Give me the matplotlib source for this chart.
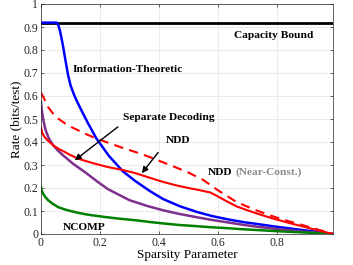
import numpy as np
import matplotlib
matplotlib.use('Agg')
import matplotlib.pyplot as plt

plt.rcParams['font.family'] = ['Liberation Serif', 'DejaVu Serif']

# capacity bound
cap_x = [0, 0.99]
cap_y = [0.919, 0.919]

# information-theoretic
it_x = [0, 0.053, 0.056, 0.06, 0.064, 0.069, 0.075, 0.08, 0.086, 0.092, 0.1,
        0.11, 0.12, 0.14, 0.16, 0.188, 0.23, 0.278, 0.32, 0.37, 0.414, 0.47,
        0.528, 0.58, 0.64, 0.69, 0.736, 0.79, 0.85, 0.92, 0.99]
it_y = [0.919, 0.919, 0.915, 0.903, 0.885, 0.855, 0.815, 0.777, 0.733, 0.69, 0.647,
        0.612, 0.582, 0.53, 0.48, 0.415, 0.34, 0.272, 0.23, 0.186, 0.152, 0.121,
        0.096, 0.078, 0.062, 0.051, 0.043, 0.033, 0.023, 0.012, 0.0]

# separate decoding
sd_x = [0, 0.002, 0.007, 0.012, 0.018, 0.028, 0.041, 0.058, 0.075, 0.108, 0.148,
        0.193, 0.227, 0.3, 0.36, 0.414, 0.47, 0.528, 0.58, 0.64, 0.69, 0.737,
        0.79, 0.85, 0.92, 0.99]
sd_y = [0.575, 0.545, 0.502, 0.47, 0.443, 0.412, 0.386, 0.362, 0.342, 0.306, 0.27,
        0.226, 0.195, 0.147, 0.122, 0.103, 0.087, 0.073, 0.061, 0.049, 0.039, 0.031,
        0.023, 0.015, 0.007, 0.0]

# NCOMP
nc_x = [0, 0.002, 0.007, 0.014, 0.024, 0.04, 0.058, 0.08, 0.103, 0.13, 0.159,
        0.216, 0.27, 0.319, 0.37, 0.414, 0.47, 0.528, 0.58, 0.624, 0.68,
        0.736, 0.79, 0.85, 0.92, 0.99]
nc_y = [0.205, 0.19, 0.176, 0.162, 0.147, 0.131, 0.117, 0.107, 0.099, 0.091, 0.084,
        0.074, 0.066, 0.06, 0.052, 0.046, 0.039, 0.034, 0.029, 0.026, 0.021,
        0.017, 0.013, 0.009, 0.005, 0.0]

# NDD
ndd_x = [0, 0.004, 0.012, 0.025, 0.041, 0.06, 0.08, 0.1, 0.125, 0.155, 0.182,
         0.227, 0.278, 0.319, 0.37, 0.415, 0.46, 0.5, 0.54, 0.575, 0.6, 0.63,
         0.663, 0.7, 0.737, 0.79, 0.85, 0.92, 0.99]
ndd_y = [0.465, 0.44, 0.422, 0.404, 0.386, 0.37, 0.357, 0.343, 0.328, 0.316, 0.306,
         0.291, 0.278, 0.265, 0.244, 0.226, 0.211, 0.2, 0.19, 0.18, 0.163, 0.142,
         0.12, 0.103, 0.087, 0.066, 0.045, 0.022, 0.0]

# NDD near-constant
nddc_x = [0, 0.01, 0.024, 0.04, 0.058, 0.08, 0.103, 0.148, 0.188, 0.24, 0.28,
          0.319, 0.37, 0.415, 0.46, 0.5, 0.55, 0.6, 0.663, 0.72, 0.776, 0.83,
          0.889, 0.94, 0.99]
nddc_y = [0.615, 0.59, 0.552, 0.525, 0.502, 0.482, 0.465, 0.437, 0.415, 0.391, 0.373,
          0.357, 0.334, 0.311, 0.288, 0.267, 0.235, 0.19, 0.139, 0.108, 0.081, 0.059,
          0.038, 0.019, 0.0]

fig = plt.figure(figsize=(3.53, 2.65), dpi=100)
ax = fig.add_axes([41/353, 1-234/265, 292/353, 230/265])

lw = 1.8
ax.plot(cap_x, cap_y, color='black', lw=2.0)
ax.plot(it_x, it_y, color='#0000ff', lw=lw)
ax.plot(sd_x, sd_y, color='#7e2f8e', lw=lw)
ax.plot(nc_x, nc_y, color='#008000', lw=lw)
ax.plot(ndd_x, ndd_y, color='#ff0000', lw=1.5)
ax.plot(nddc_x, nddc_y, color='#ff0000', lw=1.5, dashes=(4.5, 3))

ax.set_xlim(0, 0.99)
ax.set_ylim(0, 1)
ax.set_xticks([0, 0.2, 0.4, 0.6, 0.8])
ax.set_xticklabels(['0', '0.2', '0.4', '0.6', '0.8'])
ax.set_yticks(np.arange(0, 1.01, 0.1))
ax.set_yticklabels(['0', '0.1', '0.2', '0.3', '0.4', '0.5', '0.6', '0.7', '0.8', '0.9', '1'])
ax.tick_params(direction='in', length=2.5, width=0.5, labelsize=8.5,
               top=True, right=True, colors='#262626', pad=2)
for s in ax.spines.values():
    s.set_linewidth(0.5)
    s.set_color('#262626')
ax.grid(True, color='#e3e3e3', lw=0.5)
ax.set_axisbelow(True)

ax.set_xlabel('Sparsity Parameter', fontsize=9.5, labelpad=0)
ax.set_ylabel('Rate (bits/test)', fontsize=9.5, labelpad=1)

fs = 8.2
ax.text(0.79, 0.864, 'Capacity Bound', fontsize=fs, fontweight='bold', ha='center', va='center')
ax.text(0.108, 0.716, 'Information-Theoretic', fontsize=fs, fontweight='bold', ha='left', va='center')
ax.text(0.278, 0.507, 'Separate Decoding', fontsize=fs, fontweight='bold', ha='left', va='center')
ax.text(0.424, 0.407, 'NDD', fontsize=fs, fontweight='bold', ha='left', va='center')
ax.text(0.075, 0.03, 'NCOMP', fontsize=fs, fontweight='bold', ha='left', va='center')
t1 = ax.text(0.566, 0.268, 'NDD', fontsize=fs, fontweight='bold', ha='left', va='center')
ax.annotate('(Near-Const.)', xy=(1, 0), xycoords=t1, xytext=(2, 0),
            textcoords='offset points', fontsize=fs, fontweight='bold',
            color='#8a8a8a', ha='left', va='bottom')

arrow = dict(arrowstyle='-|>', color='black', lw=1.0, mutation_scale=9)
ax.annotate('', xy=(0.107, 0.313), xytext=(0.268, 0.473), arrowprops=arrow)
ax.annotate('', xy=(0.336, 0.255), xytext=(0.403, 0.364), arrowprops=arrow)

fig.savefig('out.png', dpi=100)
